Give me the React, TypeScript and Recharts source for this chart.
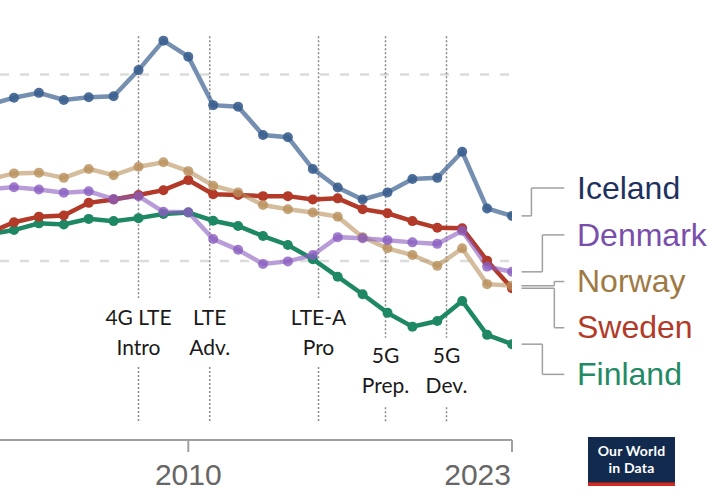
import { LineChart, Line, XAxis, YAxis, ReferenceLine } from 'recharts';

const years = [2002, 2003, 2004, 2005, 2006, 2007, 2008, 2009, 2010, 2011, 2012, 2013, 2014, 2015, 2016, 2017, 2018, 2019, 2020, 2021, 2022, 2023];
const iceland = [91.9, 93.8, 95.1, 93.2, 93.9, 94.2, 101.2, 109.1, 104.8, 91.8, 91.4, 83.8, 83.2, 74.7, 69.7, 66.5, 68.4, 72.0, 72.3, 79.3, 64.1, 62.1];
const denmark = [69.3, 69.8, 69.2, 68.3, 68.7, 66.6, 67.4, 63.2, 63.1, 55.9, 53.0, 49.2, 49.9, 51.6, 56.4, 56.1, 55.6, 55.0, 54.6, 58.1, 48.5, 47.1];
const norway = [71.9, 73.5, 73.7, 72.3, 74.7, 73.0, 75.3, 76.5, 74.1, 70.2, 68.4, 65.0, 63.9, 63.0, 61.9, 56.4, 53.4, 51.6, 48.7, 53.4, 43.8, 43.4];
const sweden = [57.5, 60.4, 61.9, 62.2, 65.6, 66.5, 67.7, 69.0, 71.7, 67.9, 67.7, 67.4, 67.4, 66.5, 66.8, 63.9, 62.8, 60.7, 58.9, 58.8, 50.1, 42.7];
const finland = [57.2, 58.3, 60.1, 59.8, 61.3, 60.7, 61.5, 62.6, 63.0, 60.8, 59.4, 56.7, 54.3, 50.5, 45.8, 41.1, 36.1, 32.4, 33.9, 39.3, 30.2, 27.7];

const xTicks = [2010, 2023];
const gridValues = [50, 100];

// technology milestones (vertical dotted lines)
const eventYears = [2008, 2010.86, 2015.23, 2017.92, 2020.37];
const eventTop = ['4G LTE', 'LTE', 'LTE-A', '5G', '5G'];
const eventBottom = ['Intro', 'Adv.', 'Pro', 'Prep.', 'Dev.'];

const X_MIN = 2002.438;
const X_MAX = 2023;
const Y_MIN = 2;
const Y_MAX = 120;
const PLOT_W = 512;

const xPx = (yr: number) => ((yr - X_MIN) / (X_MAX - X_MIN)) * PLOT_W;

const chartData = years.map((year, i) => ({
  year,
  iceland: iceland[i],
  denmark: denmark[i],
  norway: norway[i],
  sweden: sweden[i],
  finland: finland[i],
}));

const last = (arr: number[]) => arr[arr.length - 1];

// label entries, top to bottom
const labels = [
  { name: 'Iceland', color: '#1e325f', end: last(iceland), labelV: 69.6, elbow: 2023.78, baseline: 199 },
  { name: 'Denmark', color: '#7a4eab', end: last(denmark), labelV: 57.0, elbow: 2024.22, baseline: 246 },
  { name: 'Norway', color: '#a07a44', end: last(norway), labelV: 44.5, elbow: 2024.7, baseline: 292 },
  { name: 'Sweden', color: '#b23a27', end: last(sweden), labelV: 32.1, elbow: 2024.7, baseline: 338 },
  { name: 'Finland', color: '#238a66', end: last(finland), labelV: 19.6, elbow: 2024.22, baseline: 385 },
];

const series = [
  { key: 'finland', color: '#1e8865', lineOp: 1, dotOp: 1 },
  { key: 'sweden', color: '#b33a28', lineOp: 1, dotOp: 1 },
  { key: 'norway', color: '#b88f5a', lineOp: 0.6, dotOp: 0.8 },
  { key: 'denmark', color: '#8a5cc0', lineOp: 0.6, dotOp: 0.8 },
  { key: 'iceland', color: '#3a5f8f', lineOp: 0.7, dotOp: 0.9 },
];

const YearTick = (props: any) => {
  const { x, y, payload } = props;
  const isLast = payload.value === X_MAX;
  return (
    <text
      x={isLast ? x - 1 : x}
      y={y + 31}
      textAnchor={isLast ? 'end' : 'middle'}
      fill="#666"
      fontSize={30}
      fontFamily="'Liberation Sans', Arial, sans-serif"
    >
      {payload.value}
    </text>
  );
};

export default function App() {
  const segs: any[] = [];
  labels.forEach((l, i) => {
    const pts: [number, number][] = [
      [2023.38, l.end],
      [l.elbow, l.end],
      [l.elbow, l.labelV],
      [2025.1, l.labelV],
    ];
    for (let k = 0; k < pts.length - 1; k++) {
      segs.push(
        <ReferenceLine
          key={`c${i}-${k}`}
          segment={[{ x: pts[k][0], y: pts[k][1] }, { x: pts[k + 1][0], y: pts[k + 1][1] }]}
          stroke="#a0a0a0"
          strokeWidth={1.5}
          ifOverflow="visible"
        />
      );
    }
  });

  return (
    <div style={{ position: 'relative', width: 719, height: 499, background: '#fff' }}>
      <style>{'body{margin:0}'}</style>
      <LineChart
        width={719}
        height={499}
        data={chartData}
        margin={{ top: 0, right: 207, bottom: 0, left: 0 }}
      >
        <XAxis
          dataKey="year"
          type="number"
          domain={[X_MIN, X_MAX]}
          allowDataOverflow
          ticks={xTicks}
          height={59}
          tickSize={12}
          tickMargin={2}
          tick={<YearTick />}
          axisLine={{ stroke: '#a0a0a0', strokeWidth: 2 }}
          tickLine={{ stroke: '#a0a0a0', strokeWidth: 2 }}
        />
        <YAxis hide type="number" domain={[Y_MIN, Y_MAX]} allowDataOverflow />
        {gridValues.map((v) => (
          <ReferenceLine key={`g${v}`} y={v} stroke="#dcdcdc" strokeWidth={2.5} strokeDasharray="9 11" />
        ))}
        {eventYears.map((yr, i) => {
          const textBottom = i < 3 ? 40.1 : 29.4;
          const below = i < 3 ? 21.6 : 10.8;
          return [
            <ReferenceLine
              key={`eu${i}`}
              segment={[{ x: yr, y: 110.3 }, { x: yr, y: textBottom }]}
              stroke="#888"
              strokeWidth={1.5}
              strokeDasharray="2 2"
            />,
            <ReferenceLine
              key={`el${i}`}
              segment={[{ x: yr, y: below }, { x: yr, y: 6.8 }]}
              stroke="#888"
              strokeWidth={1.5}
              strokeDasharray="2 2"
            />,
          ];
        })}
        {segs}
        {series.map((s) => (
          <Line
            key={s.key}
            dataKey={s.key}
            type="linear"
            stroke={s.color}
            strokeOpacity={s.lineOp}
            strokeWidth={4.5}
            dot={{ r: 5, fill: s.color, fillOpacity: s.dotOp, stroke: 'none', strokeWidth: 0 }}
            activeDot={false}
            isAnimationActive={false}
          />
        ))}
      </LineChart>
      <svg
        width={719}
        height={499}
        style={{ position: 'absolute', left: 0, top: 0, pointerEvents: 'none' }}
      >
        {eventYears.map((yr, i) => {
          const base = i < 3 ? 325 : 363;
          return (
            <g key={`t${i}`} fontFamily="Lato, 'Open Sans', sans-serif" fontSize={21} fill="#1a1a1a" textAnchor="middle">
              <text x={xPx(yr)} y={base}>{eventTop[i]}</text>
              <text x={xPx(yr)} y={base + 30}>{eventBottom[i]}</text>
            </g>
          );
        })}
        {labels.map((l) => (
          <text
            key={l.name}
            x={577}
            y={l.baseline}
            fill={l.color}
            fontSize={32}
            fontFamily="'Liberation Sans', Arial, sans-serif"
          >
            {l.name}
          </text>
        ))}
        <rect x={588} y={437} width={87} height={49} fill="#122a4e" />
        <rect x={588} y={482.5} width={87} height={3.5} fill="#d42b21" />
        <g fontFamily="Lato, sans-serif" fontWeight={700} fontSize={14} fill="#fff" textAnchor="middle" letterSpacing={0.2}>
          <text x={631.5} y={456}>Our World</text>
          <text x={631.5} y={473}>in Data</text>
        </g>
      </svg>
    </div>
  );
}
